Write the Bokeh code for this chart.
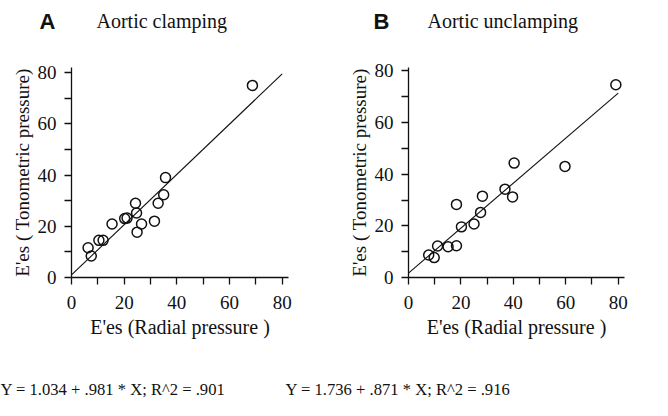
from bokeh.plotting import figure
from bokeh.models import Range1d, FixedTicker
from bokeh.layouts import column, row
from bokeh.embed import file_html
from bokeh.resources import INLINE
from bokeh.core.properties import value

# ---- data ----
a_x = [68.7, 6.3, 7.5, 10.4, 12.0, 15.4, 20.2, 21.1, 24.3, 24.7, 24.9, 26.6, 31.5, 32.9, 35.0, 35.7]
a_y = [75.0, 11.6, 8.4, 14.5, 14.5, 20.9, 23.0, 23.2, 29.0, 25.2, 17.7, 20.9, 22.0, 29.0, 32.3, 39.0]
a_line_x = [0, 80]
a_line_y = [1.0, 79.5]

b_x = [79.1, 7.7, 9.8, 11.1, 15.1, 18.3, 18.3, 20.2, 25.0, 27.5, 28.2, 36.8, 39.7, 40.3, 59.7]
b_y = [74.6, 8.7, 7.7, 12.2, 11.9, 12.3, 28.3, 19.6, 20.7, 25.2, 31.5, 34.2, 31.2, 44.3, 43.0]
b_line_x = [0, 80]
b_line_y = [1.7, 71.4]

major_ticks = [0, 20, 40, 60, 80]
minor_ticks = [10, 30, 50, 70]

x_label = "E'es (Radial pressure )"
y_label = "E'es ( Tonometric pressure)"
letters = ["A", "B"]
titles = ["Aortic clamping", "Aortic unclamping"]
equations = ["Y = 1.034 + .981 * X; R^2 = .901", "Y = 1.736 + .871 * X; R^2 = .916"]

TICK_FONT = "Liberation Sans Narrow"
SERIF = "Liberation Serif"
INK = "#111111"


def panel(xs, ys, lx, ly, width, xmax, ymax, left, right, top, bottom):
    p = figure(width=width, height=318, x_range=Range1d(0, xmax), y_range=Range1d(0, ymax),
               output_backend="svg", toolbar_location=None,
               min_border_left=left, min_border_right=right,
               min_border_top=top, min_border_bottom=bottom,
               x_axis_label=x_label, y_axis_label=y_label)
    p.xgrid.visible = False
    p.ygrid.visible = False
    p.outline_line_color = None
    for ax in (p.xaxis[0], p.yaxis[0]):
        ax.ticker = FixedTicker(ticks=major_ticks, minor_ticks=minor_ticks)
        ax.major_label_text_font = TICK_FONT
        ax.major_label_text_font_size = "19px"
        ax.major_label_text_color = INK
        ax.axis_label_text_font = SERIF
        ax.axis_label_text_font_style = "normal"
        ax.axis_label_text_color = INK
        ax.axis_line_color = INK
        ax.axis_line_width = 1.3
        ax.major_tick_line_color = INK
        ax.minor_tick_line_color = INK
        ax.major_tick_line_width = 1.3
        ax.minor_tick_line_width = 1.3
        ax.major_tick_in = 0
        ax.minor_tick_in = 0
        ax.major_tick_out = 7
        ax.minor_tick_out = 7
    p.xaxis.axis_label_text_font_size = "20px"
    p.yaxis.axis_label_text_font_size = "19px"
    p.xaxis.major_label_standoff = 11
    p.yaxis.major_label_standoff = 8
    p.xaxis.axis_label_standoff = 4
    p.yaxis.axis_label_standoff = 2

    p.line(lx, ly, line_color=INK, line_width=1.1)
    p.scatter(xs, ys, marker="circle", size=10, fill_color=None,
              line_color=INK, line_width=1.5)
    return p


def strip(height):
    f = figure(width=666, height=height, x_range=Range1d(0, 666), y_range=Range1d(0, height),
               output_backend="svg", toolbar_location=None, min_border=0,
               x_axis_location=None, y_axis_location=None)
    f.outline_line_color = None
    f.grid.visible = False
    return f


header = strip(40)
header.text(x=[39, 373], y=[19.2, 19.2], text=letters, text_font=value("Liberation Sans"),
            text_font_size=value("22px"), text_font_style=value("bold"), text_color=INK,
            text_baseline="alphabetic", text_align="left")
header.text(x=[96, 427], y=[19.5, 19.5], text=titles, text_font=value(SERIF),
            text_font_size=value("20px"), text_color=INK,
            text_baseline="alphabetic", text_align="left")

pa = panel(a_x, a_y, a_line_x, a_line_y, 334, 82.4, 82.0, 71, 46, 25, 81)
pb = panel(b_x, b_y, b_line_x, b_line_y, 332, 82.4, 81.3, 74, 42, 27, 80)

footer = strip(56)
footer.text(x=[0, 285], y=[24.7, 24.7], text=equations, text_font=value(SERIF),
            text_font_size=value("16.6px"), text_color=INK,
            text_baseline="alphabetic", text_align="left")

layout = column(header, row(pa, pb), footer)
open("out.html", "w").write(file_html(layout, INLINE))
